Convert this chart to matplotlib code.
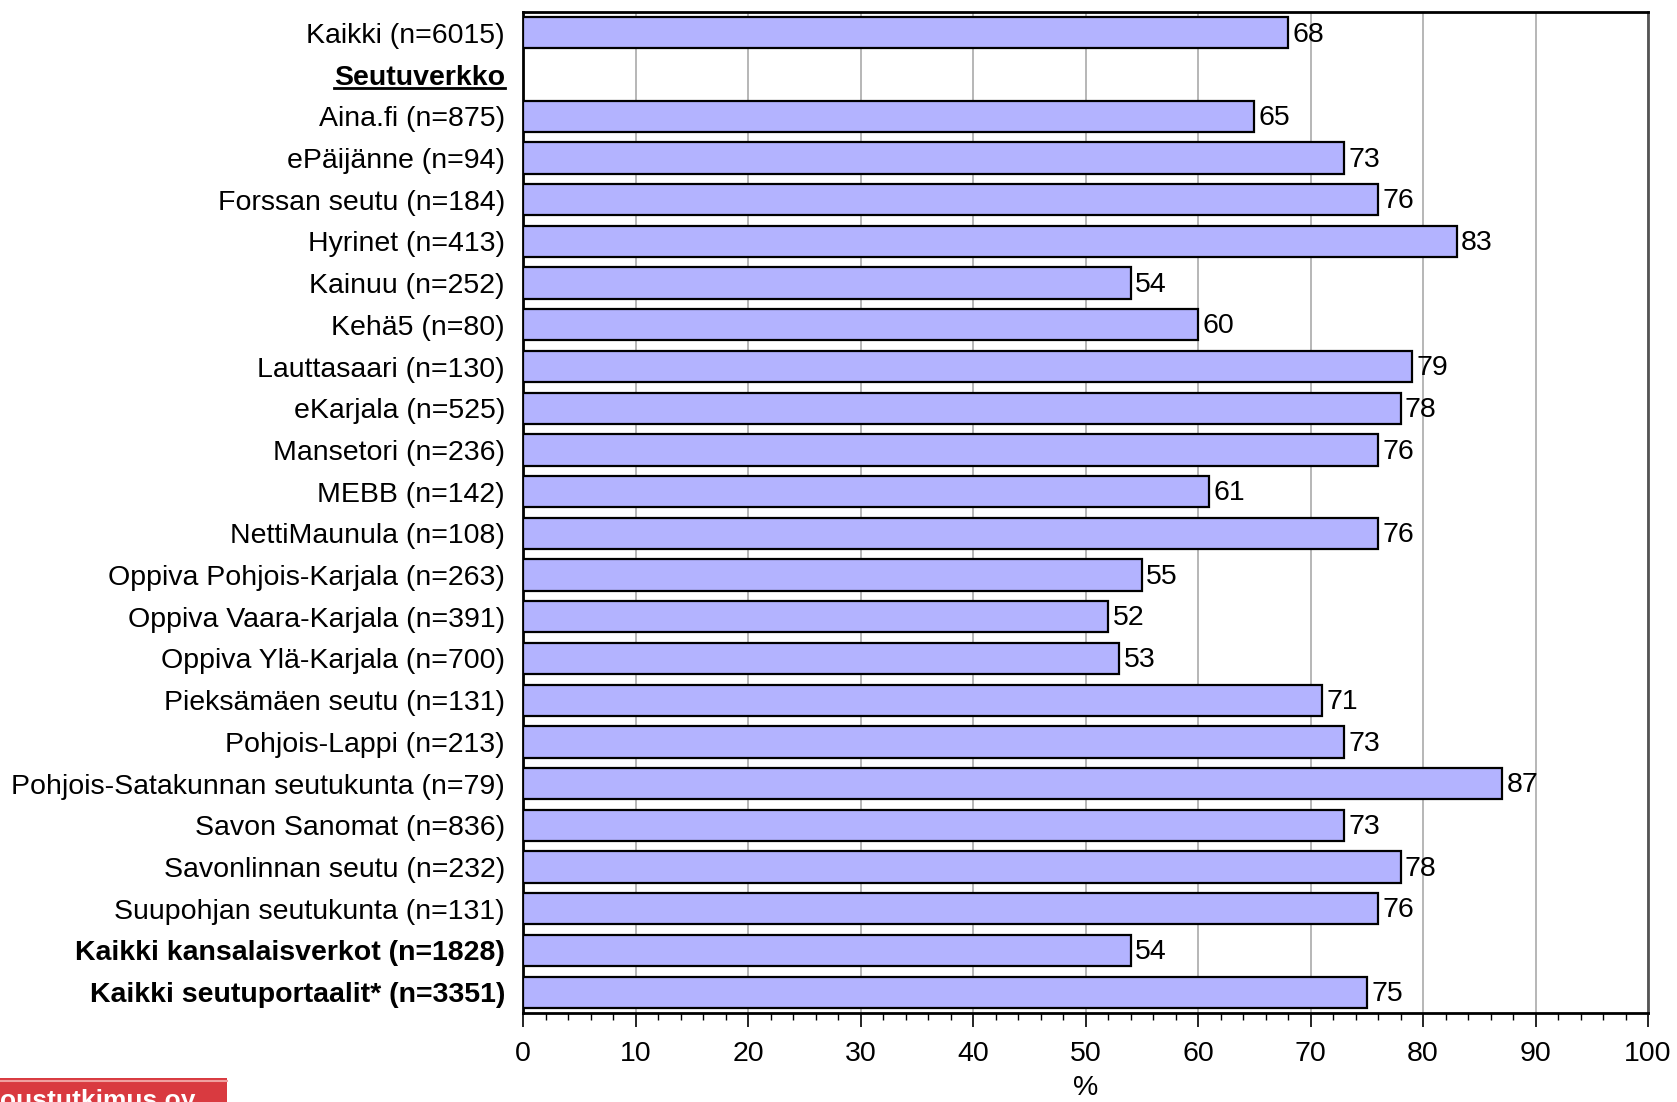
import matplotlib
matplotlib.use("Agg")
import matplotlib.pyplot as plt
import numpy as np
from matplotlib.patches import Rectangle
from matplotlib.lines import Line2D

categories = [
    "Kaikki (n=6015)", "Seutuverkko", "Aina.fi (n=875)", "ePäijänne (n=94)",
    "Forssan seutu (n=184)", "Hyrinet (n=413)", "Kainuu (n=252)", "Kehä5 (n=80)",
    "Lauttasaari (n=130)", "eKarjala (n=525)", "Mansetori (n=236)", "MEBB (n=142)",
    "NettiMaunula (n=108)", "Oppiva Pohjois-Karjala (n=263)", "Oppiva Vaara-Karjala (n=391)",
    "Oppiva Ylä-Karjala (n=700)", "Pieksämäen seutu (n=131)", "Pohjois-Lappi (n=213)",
    "Pohjois-Satakunnan seutukunta (n=79)", "Savon Sanomat (n=836)",
    "Savonlinnan seutu (n=232)", "Suupohjan seutukunta (n=131)",
    "Kaikki kansalaisverkot (n=1828)", "Kaikki seutuportaalit* (n=3351)",
]
values = [68, None, 65, 73, 76, 83, 54, 60, 79, 78, 76, 61, 76, 55, 52, 53,
          71, 73, 87, 73, 78, 76, 54, 75]
bold_labels = ["Seutuverkko", "Kaikki kansalaisverkot (n=1828)", "Kaikki seutuportaalit* (n=3351)"]
xticks = list(range(0, 101, 10))

plt.rcParams['font.family'] = ['Liberation Sans', 'DejaVu Sans']
FS = 20.5

fig = plt.figure(figsize=(16.77, 11.02), dpi=100)
ax = fig.add_axes([523/1677, 1 - 1013/1102, (1648 - 523)/1677, (1013 - 12)/1102])

n = len(categories)
y = np.arange(n)
for i, v in enumerate(values):
    if v is None:
        continue
    ax.barh(y[i], v, height=0.75, color="#B3B3FF", edgecolor="black", linewidth=1.6, zorder=3)
    ax.text(v + 0.4, y[i] + 0.04, f"{v}", va="center", ha="left", fontsize=FS, zorder=4)

ax.set_ylim(n - 0.5, -0.5)
ax.set_xlim(0, 100)
ax.set_xticks(xticks)
ax.set_xticks(np.arange(0, 101, 2), minor=True)
ax.set_xticklabels([str(t) for t in xticks], fontsize=FS)
ax.tick_params(axis="x", which="major", direction="out", length=10, width=1.2, pad=10)
ax.tick_params(axis="x", which="minor", direction="out", length=5, width=1.0)
ax.set_yticks(y)
ax.set_yticklabels(categories, fontsize=FS)
ax.tick_params(axis="y", length=0, pad=13)
for lab in ax.get_yticklabels():
    if lab.get_text() in bold_labels:
        lab.set_fontweight("bold")

ax.grid(axis="x", which="major", color="#AAAAAA", linewidth=1.2, zorder=0)
ax.set_axisbelow(True)
for s in ["left", "bottom", "top"]:
    ax.spines[s].set_linewidth(2.0)
    ax.spines[s].set_color("black")
ax.spines["right"].set_linewidth(2.0)
ax.spines["right"].set_color("#555555")

ax.set_xlabel("%", fontsize=FS, labelpad=6)

# underline the group heading
fig.canvas.draw()
renderer = fig.canvas.get_renderer()
for lab in ax.get_yticklabels():
    if lab.get_text() == "Seutuverkko":
        bb = lab.get_window_extent(renderer)
        inv = fig.transFigure.inverted()
        (x0, y0), (x1, y1) = inv.transform([(bb.x0, bb.y0), (bb.x1, bb.y0)])
        fig.add_artist(Line2D([x0, x1], [y0 + 0.002, y0 + 0.002], transform=fig.transFigure,
                              color="black", linewidth=2.0))

# logo fragment at bottom-left
fig.add_artist(Rectangle((0, 0), 227/1677, 24/1102, transform=fig.transFigure,
                         facecolor="#D93A40", edgecolor="none"))
fig.add_artist(Line2D([0, 227/1677], [21/1102, 21/1102], transform=fig.transFigure,
                      color="#F0A0A0", linewidth=1.5))
fig.text(195/1677, 13/1102, "Taloustutkimus oy", color="white", fontsize=19,
         fontweight="bold", ha="right", va="top")

fig.savefig("out.png", dpi=100)
